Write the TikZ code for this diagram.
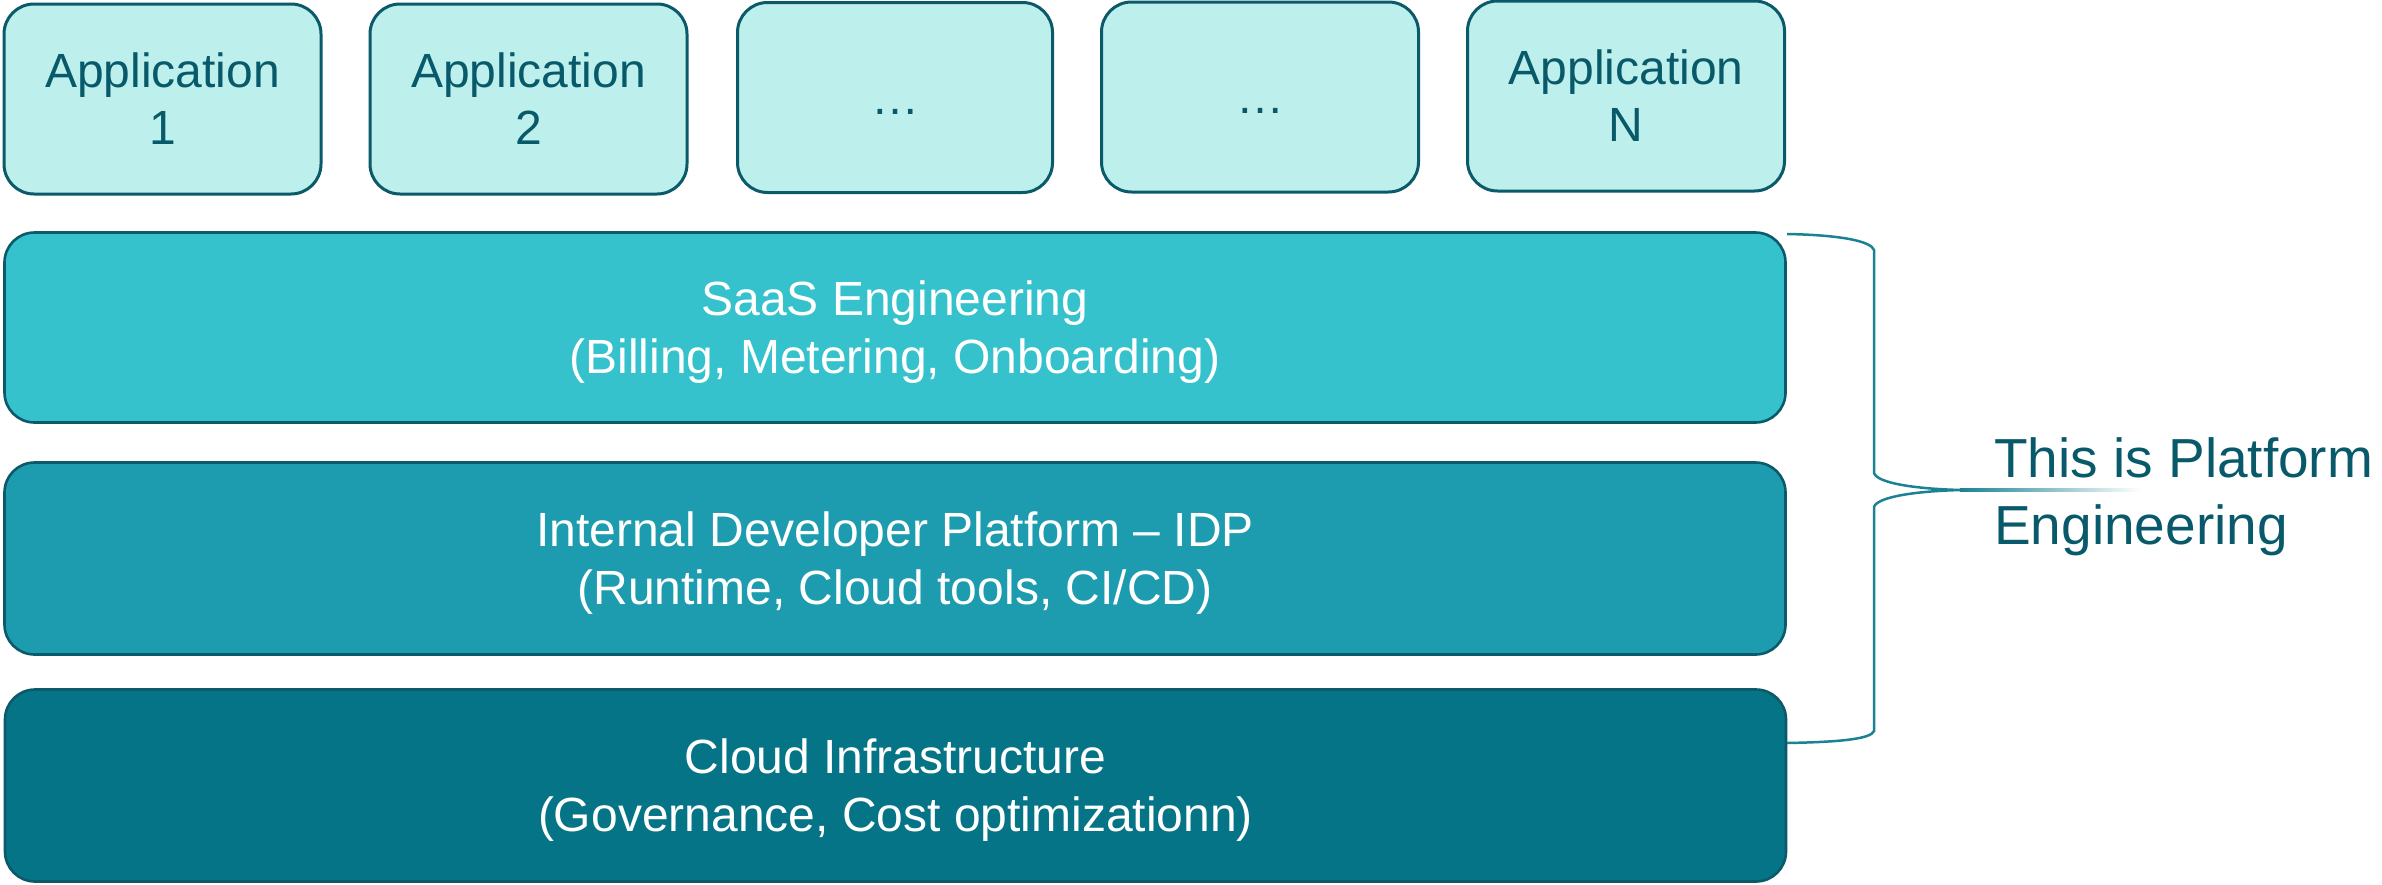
\documentclass[tikz,border=0pt]{standalone}
\usepackage{fontspec}
\setmainfont{Liberation Sans}
\definecolor{appfill}{HTML}{BDEFEC}
\definecolor{bordercol}{HTML}{0B5A69}
\definecolor{darktext}{HTML}{085A6A}
\definecolor{saasfill}{HTML}{36C2CD}
\definecolor{idpfill}{HTML}{1E9CAF}
\definecolor{cloudfill}{HTML}{057486}
\definecolor{bracecol}{HTML}{1A8293}
\newcommand\topstrut{\rule{0pt}{0.905em}}
\newcommand\botstrut{\rule[-0.212em]{0pt}{0.212em}}
\begin{document}
\begin{tikzpicture}[x=1pt,y=-1pt,
  appbox/.style={draw=bordercol, line width=3pt, fill=appfill, rounded corners=30pt,
    inner sep=0pt, text=darktext, align=center, minimum width=317pt, minimum height=190pt,
    font=\fontsize{48}{57}\selectfont},
  barbox/.style={draw=bordercol, line width=2.6pt, rounded corners=30pt, inner sep=0pt,
    text=white, align=center, minimum width=1781pt, font=\fontsize{48}{58}\selectfont},
  bracestyle/.style={draw=bracecol, line width=2.5pt}
]
\useasboundingbox (0,0) rectangle (2382,884);
\fill[white] (0,0) rectangle (2382,884);

\node[appbox] (app1) at (162.5,99) {\topstrut Application\\1\botstrut};
\node[appbox] (app2) at (528.5,99) {\topstrut Application\\2\botstrut};
\node[appbox, minimum width=315pt] (app3) at (895,97.5) {\topstrut …\botstrut};
\node[appbox] (app4) at (1260,97) {\topstrut …\botstrut};
\node[appbox] (appn) at (1626,96) {\topstrut Application\\N\botstrut};

\node[barbox, fill=saasfill, minimum height=190pt] (saas) at (895,327.5)
  {\topstrut SaaS Engineering\\(Billing, Metering, Onboarding)\botstrut};
\node[barbox, fill=idpfill, minimum height=192pt] (idp) at (895,558.5)
  {\topstrut Internal Developer Platform – IDP\\(Runtime, Cloud tools, CI/CD)\botstrut};
\node[barbox, fill=cloudfill, minimum height=192pt] (cloud) at (895.5,785.5)
  {\topstrut Cloud Infrastructure\\(Governance, Cost optimizationn)\botstrut};

% brace
\coordinate (btop) at (1787,234);
\coordinate (btip) at (1962,490);
\coordinate (bbot) at (1787,743);
\draw[bracestyle] (btop) .. controls (1840,235) and (1871,241) .. (1874,250)
  -- (1874,473) .. controls (1877,483) and (1915,489) .. (btip)
  .. controls (1915,491) and (1877,497) .. (1874,507)
  -- (1874,731) .. controls (1871,739) and (1840,742) .. (bbot);
\shade[left color=bracecol, right color=white] (1960,488.7) rectangle (2140,491.3);

\node[anchor=north west, inner sep=0pt, align=left, text=darktext,
  font=\fontsize{55}{67}\selectfont] (label) at (1994,427.2)
  {\topstrut This is Platform\\Engineering};
\end{tikzpicture}
\end{document}
